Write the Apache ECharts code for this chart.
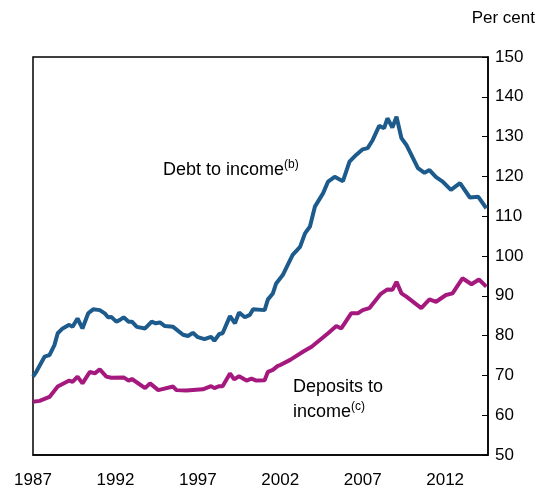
<!DOCTYPE html>
<html>
<head>
<meta charset="utf-8">
<script src="https://cdn.jsdelivr.net/npm/echarts@6/dist/echarts.min.js"></script>
<style>html,body{margin:0;padding:0;background:#fff}#chart{width:547px;height:496px}</style>
</head>
<body>
<div id="chart"></div>
<script>
// years and values
var debtYears = [1987.0,1987.2,1987.7,1988.0,1988.3,1988.5,1988.8,1989.2,1989.4,1989.7,1990.0,1990.35,1990.65,1991.05,1991.35,1991.55,1991.75,1992.05,1992.25,1992.5,1992.8,1993.0,1993.3,1993.8,1994.2,1994.45,1994.7,1995.0,1995.5,1996.1,1996.4,1996.7,1997.0,1997.4,1997.8,1998.0,1998.3,1998.5,1998.95,1999.25,1999.5,1999.85,2000.15,2000.35,2001.05,2001.25,2001.55,2001.75,2002.15,2002.75,2003.2,2003.5,2003.8,2004.1,2004.6,2004.9,2005.3,2005.8,2006.2,2006.6,2007.0,2007.3,2007.6,2008.0,2008.3,2008.5,2008.8,2009.05,2009.35,2009.65,2010.35,2010.75,2011.05,2011.45,2011.85,2012.35,2012.9,2013.5,2014.0,2014.5];
var debtValues = [69.7,70.9,74.7,75.1,77.6,80.6,81.8,82.7,82.2,84.3,81.8,85.6,86.6,86.4,85.6,84.6,84.7,83.5,83.9,84.6,83.5,83.5,82.2,81.8,83.5,83.1,83.3,82.4,82.2,80.2,79.9,80.7,79.6,79.1,79.7,78.7,80.4,80.6,84.9,83.1,85.8,84.6,85.2,86.6,86.4,89.1,90.6,93.1,95.2,100.3,102.3,105.7,107.4,112.4,115.8,118.7,119.9,118.8,123.7,125.4,126.8,127.1,129.1,132.7,132.1,134.6,132.3,135.0,129.6,127.9,122.1,120.9,121.6,119.8,118.7,116.6,118.3,114.7,114.9,112.0];

var depYears = [1987.0,1987.4,1988.0,1988.5,1989.2,1989.4,1989.7,1990.0,1990.45,1990.75,1991.05,1991.45,1991.75,1992.5,1992.8,1993.0,1993.8,1994.1,1994.6,1995.5,1995.7,1996.3,1997.3,1997.8,1998.0,1998.3,1998.5,1998.95,1999.2,1999.5,1999.95,2000.25,2000.55,2001.05,2001.25,2001.55,2001.85,2002.0,2002.6,2003.4,2003.9,2004.4,2004.9,2005.4,2005.7,2006.3,2006.7,2007.0,2007.4,2008.1,2008.5,2008.8,2009.05,2009.35,2009.65,2010.55,2011.05,2011.45,2012.05,2012.45,2013.05,2013.6,2014.05,2014.5];
var depValues = [63.4,63.6,64.6,67.2,68.7,68.4,69.7,68.0,70.9,70.5,71.5,69.7,69.4,69.5,68.7,69.1,66.8,68.0,66.3,67.2,66.3,66.2,66.5,67.3,66.8,67.3,67.3,70.5,69.0,69.8,68.7,69.2,68.7,68.8,70.9,71.4,72.4,72.6,73.9,76.0,77.2,78.9,80.6,82.4,81.8,85.6,85.6,86.4,86.9,90.5,91.6,91.5,93.5,90.6,89.8,86.9,89.1,88.5,90.2,90.6,94.4,92.9,94.1,92.3];
var yearTicks = [1987,1992,1997,2002,2007,2012];

function pairs(xs, ys) { return xs.map(function (x, i) { return [x, ys[i]]; }); }

var chart = echarts.init(document.getElementById('chart'));
var font = 'Liberation Sans, Arial, sans-serif';
chart.setOption({
    animation: false,
    grid: { left: 33, right: 59, top: 57, bottom: 41, show: true, borderColor: '#000', borderWidth: 1.5 },
    xAxis: {
        type: 'value', min: 1987, max: 2014.6, interval: 5,
        axisLine: { show: true, lineStyle: { color: '#000', width: 1.5 } },
        axisTick: { show: false },
        axisLabel: { color: '#000', fontSize: 17, fontFamily: font, margin: 17, showMaxLabel: false,
            formatter: function (v) { return yearTicks.indexOf(v) >= 0 ? String(v) : ''; } },
        splitLine: { show: false }
    },
    yAxis: {
        type: 'value', position: 'right', min: 50, max: 150, interval: 10,
        axisLine: { show: true, lineStyle: { color: '#000', width: 1.5 } },
        axisTick: { show: true, inside: true, length: 6, lineStyle: { color: '#000' } },
        axisLabel: { color: '#000', fontSize: 17, fontFamily: font, margin: 7 },
        splitLine: { show: false }
    },
    graphic: [
        { type: 'text', right: 12, top: 10, style: { text: 'Per cent', font: '17px ' + font, fill: '#000' } },
        { type: 'text', left: 163, top: 159, style: { text: '{a|Debt to income}{s|(b)}',
            rich: { a: { font: '18px ' + font, fill: '#000' }, s: { font: '12px ' + font, fill: '#000', padding: [0, 0, 10, 0] } } } },
        { type: 'text', left: 293, top: 378, style: { text: 'Deposits to', font: '18px ' + font, fill: '#000' } },
        { type: 'text', left: 293, top: 401, style: { text: '{a|income}{s|(c)}',
            rich: { a: { font: '18px ' + font, fill: '#000' }, s: { font: '12px ' + font, fill: '#000', padding: [0, 0, 10, 0] } } } }
    ],
    series: [
        { type: 'line', data: pairs(debtYears, debtValues), showSymbol: false, lineStyle: { color: '#1d5b8c', width: 4 } },
        { type: 'line', data: pairs(depYears, depValues), showSymbol: false, lineStyle: { color: '#a5197f', width: 4 } }
    ]
});
</script>
</body>
</html>
